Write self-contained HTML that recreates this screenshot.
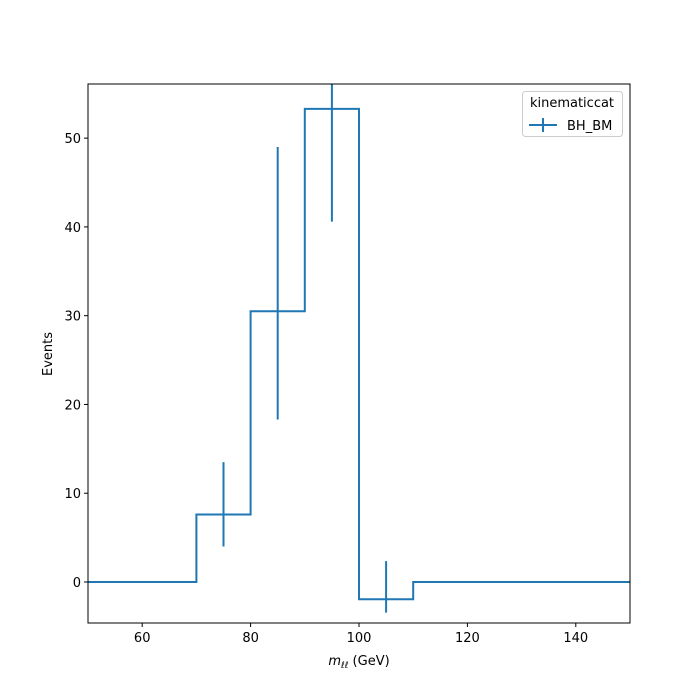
<!DOCTYPE html>
<html><head><meta charset="utf-8"><style>
html,body{margin:0;background:#fff;width:700px;height:700px;overflow:hidden}
svg{display:block}
svg text{font-family:"DejaVu Sans","Liberation Sans",sans-serif;font-size:13px;fill:#000}
</style></head><body>
<svg id="chart" width="700" height="700">
<rect width="700" height="700" fill="#fff"/>
<g id="plot"></g>
<g id="axes"></g>
<text x="359" y="665" text-anchor="middle"><tspan font-style="italic">m</tspan><tspan font-style="italic" font-size="9" dy="3">ℓℓ</tspan><tspan dy="-3"> (GeV)</tspan></text>
<text transform="translate(52,354) rotate(-90)" text-anchor="middle">Events</text>
<g>
<rect x="522.5" y="91.5" width="100" height="45" rx="3" fill="#fff" stroke="#ccc"/>
<text x="572" y="107" text-anchor="middle">kinematiccat</text>
<line x1="529" y1="125" x2="557" y2="125" stroke="#1f77b4" stroke-width="2"/>
<line x1="543" y1="118" x2="543" y2="132" stroke="#1f77b4" stroke-width="2"/>
<text x="567" y="130">BH_BM</text>
</g>
</svg>
<script>
const binEdges=[50,70,80,90,100,110,150];
const counts=[0,7.6,30.5,53.3,-1.95,0];
const errCenters=[75,85,95,105];
const errLow=[4.0,18.3,40.6,-3.45];
const errHigh=[13.5,49.0,60,2.35];
const xTicks=[60,80,100,120,140];
const yTicks=[0,10,20,30,40,50];
const X0=88,X1=630,Y0=84,Y1=623;
const xmin=50,xmax=150,ymin=-4.62,ymax=56.1;
const sx=v=>X0+(v-xmin)/(xmax-xmin)*(X1-X0);
const sy=v=>Y1-(v-ymin)/(ymax-ymin)*(Y1-Y0);
const NS="http://www.w3.org/2000/svg";
const plot=document.getElementById('plot'),axes=document.getElementById('axes');
const clip=document.createElementNS(NS,'clipPath');clip.id='c';
const cr=document.createElementNS(NS,'rect');cr.setAttribute('x',X0);cr.setAttribute('y',Y0);cr.setAttribute('width',X1-X0);cr.setAttribute('height',Y1-Y0);
clip.appendChild(cr);plot.appendChild(clip);
let d='';
for(let i=0;i<counts.length;i++){
 const y=sy(counts[i]);
 d+=(i===0?'M':'L')+sx(binEdges[i])+','+y+'L'+sx(binEdges[i+1])+','+y;
}
const p=document.createElementNS(NS,'path');


p.setAttribute('d',d);p.setAttribute('fill','none');p.setAttribute('stroke','#1f77b4');p.setAttribute('stroke-width','2');p.setAttribute('clip-path','url(#c)');
plot.appendChild(p);
for(let i=0;i<errCenters.length;i++){
 const l=document.createElementNS(NS,'line');
 
 
 l.setAttribute('x1',sx(errCenters[i]));l.setAttribute('x2',sx(errCenters[i]));
 l.setAttribute('y1',sy(errLow[i]));l.setAttribute('y2',sy(errHigh[i]));
 l.setAttribute('stroke','#1f77b4');l.setAttribute('stroke-width','2');l.setAttribute('clip-path','url(#c)');
 plot.appendChild(l);
}
const fr=document.createElementNS(NS,'rect');


fr.setAttribute('x',X0);fr.setAttribute('y',Y0);fr.setAttribute('width',X1-X0);fr.setAttribute('height',Y1-Y0);fr.setAttribute('fill','none');fr.setAttribute('stroke','#000');
axes.appendChild(fr);
xTicks.forEach(v=>{
 const t=document.createElementNS(NS,'line');
 
 
 t.setAttribute('x1',sx(v));t.setAttribute('x2',sx(v));t.setAttribute('y1',Y1);t.setAttribute('y2',Y1+4);t.setAttribute('stroke','#000');
 axes.appendChild(t);
 const tx=document.createElementNS(NS,'text');
 
 
 tx.setAttribute('x',sx(v));tx.setAttribute('y',Y1+19);tx.setAttribute('text-anchor','middle');tx.textContent=v;
 axes.appendChild(tx);
});
yTicks.forEach(v=>{
 const t=document.createElementNS(NS,'line');
 
 
 t.setAttribute('x1',X0-4);t.setAttribute('x2',X0);t.setAttribute('y1',sy(v));t.setAttribute('y2',sy(v));t.setAttribute('stroke','#000');
 axes.appendChild(t);
 const tx=document.createElementNS(NS,'text');
 
 
 tx.setAttribute('x',X0-7);tx.setAttribute('y',sy(v)+5);tx.setAttribute('text-anchor','end');tx.textContent=v;
 axes.appendChild(tx);
});
</script>
</body></html>
